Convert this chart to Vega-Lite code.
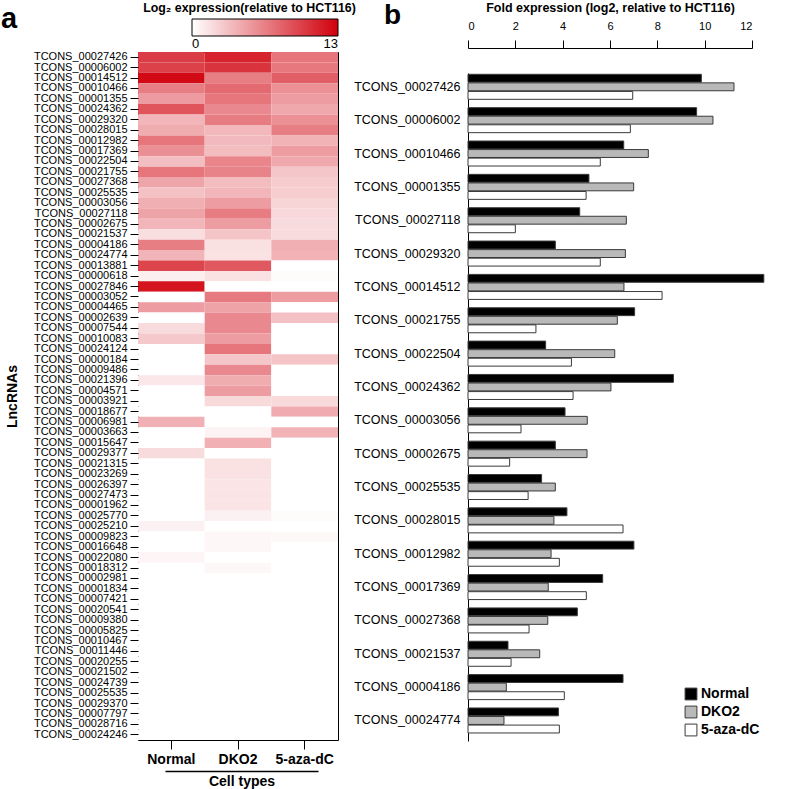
{
  "$schema": "https://vega.github.io/schema/vega-lite/v6.json",
  "padding": {"left": 0, "top": 1, "right": 5, "bottom": 0},
  "background": "white",
  "config": {
    "font": "Liberation Sans",
    "view": {"stroke": null},
    "axis": {"labelColor": "#000", "titleColor": "#000", "tickColor": "#000", "domainColor": "#000", "grid": false, "labelOverlap": false},
    "title": {"color": "#000"},
    "legend": {"labelColor": "#000"}
  },
  "title": {"text": "a", "fontSize": 29, "fontWeight": "bold", "anchor": "start", "frame": "bounds", "dx": -4, "dy": 33, "offset": 0},
  "datasets": {
    "heat": [
      {"id": "01|TCONS_00027426", "Normal": 9.9, "DKO2": 11.2, "5-aza-dC": 7.0},
      {"id": "02|TCONS_00006002", "Normal": 9.7, "DKO2": 10.4, "5-aza-dC": 6.9},
      {"id": "03|TCONS_00014512", "Normal": 12.5, "DKO2": 6.6, "5-aza-dC": 8.2},
      {"id": "04|TCONS_00010466", "Normal": 6.6, "DKO2": 7.6, "5-aza-dC": 5.6},
      {"id": "05|TCONS_00001355", "Normal": 5.1, "DKO2": 7.0, "5-aza-dC": 5.0},
      {"id": "06|TCONS_00024362", "Normal": 8.7, "DKO2": 6.0, "5-aza-dC": 4.4},
      {"id": "07|TCONS_00029320", "Normal": 3.7, "DKO2": 6.7, "5-aza-dC": 5.6},
      {"id": "08|TCONS_00028015", "Normal": 4.2, "DKO2": 3.6, "5-aza-dC": 6.6},
      {"id": "09|TCONS_00012982", "Normal": 7.0, "DKO2": 3.5, "5-aza-dC": 3.9},
      {"id": "10|TCONS_00017369", "Normal": 5.7, "DKO2": 3.4, "5-aza-dC": 5.0},
      {"id": "11|TCONS_00022504", "Normal": 3.3, "DKO2": 6.2, "5-aza-dC": 4.4},
      {"id": "12|TCONS_00021755", "Normal": 7.0, "DKO2": 6.3, "5-aza-dC": 2.9},
      {"id": "13|TCONS_00027368", "Normal": 4.6, "DKO2": 3.4, "5-aza-dC": 2.6},
      {"id": "14|TCONS_00025535", "Normal": 3.1, "DKO2": 3.7, "5-aza-dC": 2.5},
      {"id": "15|TCONS_00003056", "Normal": 4.1, "DKO2": 5.0, "5-aza-dC": 2.2},
      {"id": "16|TCONS_00027118", "Normal": 4.7, "DKO2": 6.7, "5-aza-dC": 2.0},
      {"id": "17|TCONS_00002675", "Normal": 3.7, "DKO2": 5.0, "5-aza-dC": 1.8},
      {"id": "18|TCONS_00021537", "Normal": 1.7, "DKO2": 3.0, "5-aza-dC": 1.8},
      {"id": "19|TCONS_00004186", "Normal": 6.6, "DKO2": 1.6, "5-aza-dC": 4.1},
      {"id": "20|TCONS_00024774", "Normal": 3.8, "DKO2": 1.5, "5-aza-dC": 3.9},
      {"id": "21|TCONS_00013881", "Normal": 9.5, "DKO2": 8.5, "5-aza-dC": 0},
      {"id": "22|TCONS_00000618", "Normal": 0.8, "DKO2": 1.5, "5-aza-dC": 0.2},
      {"id": "23|TCONS_00027846", "Normal": 12.0, "DKO2": 0, "5-aza-dC": 0},
      {"id": "24|TCONS_00003052", "Normal": 0, "DKO2": 6.8, "5-aza-dC": 5.0},
      {"id": "25|TCONS_00004465", "Normal": 5.0, "DKO2": 4.7, "5-aza-dC": 0},
      {"id": "26|TCONS_00002639", "Normal": 0, "DKO2": 6.0, "5-aza-dC": 3.2},
      {"id": "27|TCONS_00007544", "Normal": 1.8, "DKO2": 6.0, "5-aza-dC": 0},
      {"id": "28|TCONS_00010083", "Normal": 2.8, "DKO2": 5.0, "5-aza-dC": 0},
      {"id": "29|TCONS_00024124", "Normal": 0, "DKO2": 7.0, "5-aza-dC": 0},
      {"id": "30|TCONS_00000184", "Normal": 0, "DKO2": 2.9, "5-aza-dC": 3.0},
      {"id": "31|TCONS_00009486", "Normal": 0, "DKO2": 6.0, "5-aza-dC": 0},
      {"id": "32|TCONS_00021396", "Normal": 1.2, "DKO2": 4.2, "5-aza-dC": 0},
      {"id": "33|TCONS_00004571", "Normal": 0, "DKO2": 5.0, "5-aza-dC": 0},
      {"id": "34|TCONS_00003921", "Normal": 0, "DKO2": 1.9, "5-aza-dC": 1.9},
      {"id": "35|TCONS_00018677", "Normal": 0, "DKO2": 0, "5-aza-dC": 4.3},
      {"id": "36|TCONS_00006981", "Normal": 4.0, "DKO2": 0, "5-aza-dC": 0},
      {"id": "37|TCONS_00003663", "Normal": 0, "DKO2": 0.6, "5-aza-dC": 3.9},
      {"id": "38|TCONS_00015647", "Normal": 0, "DKO2": 4.0, "5-aza-dC": 0},
      {"id": "39|TCONS_00029377", "Normal": 1.8, "DKO2": 0, "5-aza-dC": 0},
      {"id": "40|TCONS_00021315", "Normal": 0, "DKO2": 1.5, "5-aza-dC": 0},
      {"id": "41|TCONS_00023269", "Normal": 0, "DKO2": 1.5, "5-aza-dC": 0},
      {"id": "42|TCONS_00026397", "Normal": 0, "DKO2": 1.4, "5-aza-dC": 0},
      {"id": "43|TCONS_00027473", "Normal": 0, "DKO2": 1.4, "5-aza-dC": 0},
      {"id": "44|TCONS_00001962", "Normal": 0, "DKO2": 1.4, "5-aza-dC": 0},
      {"id": "45|TCONS_00025770", "Normal": 0, "DKO2": 0.7, "5-aza-dC": 0.2},
      {"id": "46|TCONS_00025210", "Normal": 0.7, "DKO2": 0, "5-aza-dC": 0},
      {"id": "47|TCONS_00009823", "Normal": 0, "DKO2": 0.4, "5-aza-dC": 0.3},
      {"id": "48|TCONS_00016648", "Normal": 0, "DKO2": 0.4, "5-aza-dC": 0},
      {"id": "49|TCONS_00022080", "Normal": 0.5, "DKO2": 0, "5-aza-dC": 0},
      {"id": "50|TCONS_00018312", "Normal": 0, "DKO2": 0.4, "5-aza-dC": 0},
      {"id": "51|TCONS_00002981", "Normal": 0, "DKO2": 0, "5-aza-dC": 0},
      {"id": "52|TCONS_00001834", "Normal": 0, "DKO2": 0, "5-aza-dC": 0},
      {"id": "53|TCONS_00007421", "Normal": 0, "DKO2": 0, "5-aza-dC": 0},
      {"id": "54|TCONS_00020541", "Normal": 0, "DKO2": 0, "5-aza-dC": 0},
      {"id": "55|TCONS_00009380", "Normal": 0, "DKO2": 0, "5-aza-dC": 0},
      {"id": "56|TCONS_00005825", "Normal": 0, "DKO2": 0, "5-aza-dC": 0},
      {"id": "57|TCONS_00010467", "Normal": 0, "DKO2": 0, "5-aza-dC": 0},
      {"id": "58|TCONS_00011446", "Normal": 0, "DKO2": 0, "5-aza-dC": 0},
      {"id": "59|TCONS_00020255", "Normal": 0, "DKO2": 0, "5-aza-dC": 0},
      {"id": "60|TCONS_00021502", "Normal": 0, "DKO2": 0, "5-aza-dC": 0},
      {"id": "61|TCONS_00024739", "Normal": 0, "DKO2": 0, "5-aza-dC": 0},
      {"id": "62|TCONS_00025535", "Normal": 0, "DKO2": 0, "5-aza-dC": 0},
      {"id": "63|TCONS_00029370", "Normal": 0, "DKO2": 0, "5-aza-dC": 0},
      {"id": "64|TCONS_00007797", "Normal": 0, "DKO2": 0, "5-aza-dC": 0},
      {"id": "65|TCONS_00028716", "Normal": 0, "DKO2": 0, "5-aza-dC": 0},
      {"id": "66|TCONS_00024246", "Normal": 0, "DKO2": 0, "5-aza-dC": 0}
    ],
    "bars": [
      {"name": "TCONS_00027426", "Normal": 9.86, "DKO2": 11.24, "5-aza-dC": 6.96},
      {"name": "TCONS_00006002", "Normal": 9.66, "DKO2": 10.35, "5-aza-dC": 6.86},
      {"name": "TCONS_00010466", "Normal": 6.58, "DKO2": 7.62, "5-aza-dC": 5.59},
      {"name": "TCONS_00001355", "Normal": 5.11, "DKO2": 7.0, "5-aza-dC": 4.99},
      {"name": "TCONS_00027118", "Normal": 4.72, "DKO2": 6.69, "5-aza-dC": 2.0},
      {"name": "TCONS_00029320", "Normal": 3.69, "DKO2": 6.65, "5-aza-dC": 5.59},
      {"name": "TCONS_00014512", "Normal": 12.5, "DKO2": 6.59, "5-aza-dC": 8.2},
      {"name": "TCONS_00021755", "Normal": 7.04, "DKO2": 6.31, "5-aza-dC": 2.87},
      {"name": "TCONS_00022504", "Normal": 3.28, "DKO2": 6.2, "5-aza-dC": 4.37},
      {"name": "TCONS_00024362", "Normal": 8.68, "DKO2": 6.04, "5-aza-dC": 4.44},
      {"name": "TCONS_00003056", "Normal": 4.1, "DKO2": 5.04, "5-aza-dC": 2.24},
      {"name": "TCONS_00002675", "Normal": 3.69, "DKO2": 5.03, "5-aza-dC": 1.76},
      {"name": "TCONS_00025535", "Normal": 3.11, "DKO2": 3.69, "5-aza-dC": 2.54},
      {"name": "TCONS_00028015", "Normal": 4.18, "DKO2": 3.63, "5-aza-dC": 6.55},
      {"name": "TCONS_00012982", "Normal": 7.01, "DKO2": 3.51, "5-aza-dC": 3.86},
      {"name": "TCONS_00017369", "Normal": 5.69, "DKO2": 3.39, "5-aza-dC": 5.0},
      {"name": "TCONS_00027368", "Normal": 4.62, "DKO2": 3.37, "5-aza-dC": 2.58},
      {"name": "TCONS_00021537", "Normal": 1.69, "DKO2": 3.03, "5-aza-dC": 1.82},
      {"name": "TCONS_00004186", "Normal": 6.55, "DKO2": 1.62, "5-aza-dC": 4.07},
      {"name": "TCONS_00024774", "Normal": 3.82, "DKO2": 1.52, "5-aza-dC": 3.86}
    ]
  },
  "spacing": -4,
  "resolve": {"scale": {"color": "independent", "x": "independent", "y": "independent"}, "legend": {"color": "independent"}},
  "hconcat": [
    {
      "width": 200,
      "height": 688,
      "data": {"name": "heat"},
      "transform": [{"fold": ["Normal", "DKO2", "5-aza-dC"], "as": ["cell", "v"]}],
      "title": {"text": "Log₂ expression(relative to HCT116)", "fontSize": 12.4, "fontWeight": "bold", "anchor": "middle", "frame": "group", "dx": 11.5, "offset": 5},
      "view": {"stroke": "#000", "strokeWidth": 1},
      "layer": [
        {
          "mark": {"type": "rect"},
          "encoding": {
            "y": {"field": "id", "type": "nominal", "sort": "ascending", "scale": {"paddingInner": 0, "paddingOuter": 0},
              "axis": {"title": "LncRNAs", "labelExpr": "split(datum.label, '|')[1]", "labelFontSize": 11, "tickSize": 8, "labelPadding": 3, "titleFontSize": 14, "titleFontWeight": "bold", "titlePadding": 14, "domain": false}},
            "x": {"field": "cell", "type": "nominal", "sort": ["Normal", "DKO2", "5-aza-dC"], "scale": {"paddingInner": 0, "paddingOuter": 0},
              "axis": {"title": null, "orient": "bottom", "labelAngle": 0, "labelFontSize": 14, "labelFontWeight": "bold", "tickSize": 9, "labelPadding": 3, "domain": false}},
            "color": {"field": "v", "type": "quantitative", "scale": {"domain": [0, 13], "range": ["#ffffff", "#d0000c"], "interpolate": "rgb"},
              "legend": {"orient": "none", "legendX": 54, "legendY": -33, "direction": "horizontal", "title": null, "gradientLength": 146, "gradientThickness": 17, "gradientStrokeColor": "#000", "gradientStrokeWidth": 1, "values": [0, 13], "labelFontSize": 13, "labelAlign": "center", "labelOffset": 2, "padding": 0}}
          }
        },
        {
          "mark": {"type": "rect", "opacity": 0},
          "encoding": {
            "y": {"field": "id", "type": "nominal", "sort": "ascending"},
            "x": {"field": "cell", "type": "nominal", "sort": ["Normal", "DKO2", "5-aza-dC"], "scale": {"range": [27, 180]},
              "axis": {"orient": "bottom", "offset": 31, "labels": false, "ticks": false, "domain": true, "domainWidth": 1.5, "title": "Cell types", "titleFontSize": 14, "titleFontWeight": "bold", "titlePadding": 3}}
          }
        }
      ],
      "resolve": {"scale": {"x": "independent"}, "axis": {"x": "independent"}}
    },
    {
      "width": 284,
      "height": 689,
      "data": {"name": "bars"},
      "transform": [{"fold": ["Normal", "DKO2", "5-aza-dC"], "as": ["type", "val"]}],
      "title": {"text": "b", "fontSize": 28, "fontWeight": "bold", "anchor": "start", "frame": "group", "dx": -84, "dy": 29, "offset": 0},
      "mark": {"type": "bar", "stroke": "#3a3a3a", "strokeWidth": 1},
      "encoding": {
        "y": {"field": "name", "type": "nominal", "sort": null, "scale": {"range": [21, 689], "paddingInner": 0.25, "paddingOuter": 0.14, "align": 0.14},
          "axis": {"title": null, "ticks": false, "labelFontSize": 12.5, "labelPadding": 8}},
        "x": {"field": "val", "type": "quantitative", "scale": {"domain": [0, 12], "nice": false},
          "axis": {"orient": "top", "offset": 4, "values": [0, 2, 4, 6, 8, 10, 12], "tickSize": 8, "labelFontSize": 11, "labelPadding": 9, "title": "Fold expression (log2, relative to HCT116)", "titleFontSize": 12.5, "titleFontWeight": "bold", "titlePadding": 6}},
        "yOffset": {"field": "type", "type": "nominal", "sort": ["Normal", "DKO2", "5-aza-dC"], "scale": {"paddingInner": 0.08}},
        "color": {"field": "type", "type": "nominal", "sort": ["Normal", "DKO2", "5-aza-dC"],
          "scale": {"domain": ["Normal", "DKO2", "5-aza-dC"], "range": ["#000000", "#b9b9b9", "#ffffff"]},
          "legend": {"orient": "none", "legendX": 216, "legendY": 635, "title": null, "symbolType": "square", "symbolSize": 140, "symbolStrokeColor": "#3a3a3a", "symbolStrokeWidth": 1, "labelFontSize": 14, "labelFontWeight": "bold", "rowPadding": 2, "labelOffset": 3, "padding": 0}}
      }
    }
  ]
}
